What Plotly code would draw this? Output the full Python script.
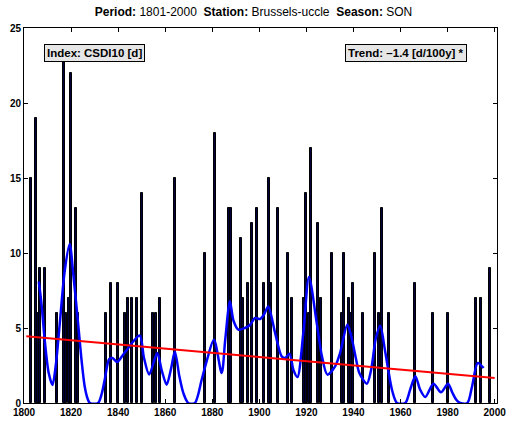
import plotly.graph_objects as go

# ---- data ----
bar_years = [1803, 1805, 1806, 1807, 1809, 1814, 1817, 1818, 1819, 1820, 1822, 1823,
             1835, 1837, 1840, 1843, 1844, 1846, 1848, 1850, 1855, 1856, 1858, 1864,
             1877, 1881, 1887, 1888, 1892, 1893, 1895, 1897, 1899, 1902, 1904, 1905,
             1908, 1912, 1914, 1919, 1920, 1921, 1922, 1925, 1926, 1931, 1935, 1936,
             1938, 1939, 1940, 1944, 1949, 1951, 1952, 1955, 1966, 1974, 1980, 1992,
             1994, 1998]
bar_vals = [15, 19, 6, 9, 9, 6, 23, 6, 7, 22, 13, 6,
            6, 8, 8, 6, 7, 7, 7, 14, 6, 6, 7, 15,
            10, 18, 13, 13, 11, 7, 8, 12, 13, 8, 15, 8,
            13, 10, 7, 7, 14, 6, 17, 12, 7, 10, 6, 10,
            7, 6, 8, 6, 10, 6, 13, 6, 8, 6, 6, 7,
            7, 9]

smooth_years = [1806.3, 1807.5, 1808.8, 1810.5, 1812.1, 1813.5, 1815.2, 1817.3, 1819.4, 1821.0,
                1823.0, 1824.5, 1825.8, 1827.0, 1828.0, 1831.5, 1833.0, 1834.3, 1836.2, 1837.6,
                1839.6, 1842.1, 1844.0, 1846.4, 1849.2, 1851.0, 1853.2, 1856.6, 1858.5, 1860.6,
                1862.5, 1864.1, 1866.0, 1867.7, 1869.8, 1872.6, 1875.5, 1877.6, 1880.7, 1884.0,
                1885.5, 1887.5, 1889.0, 1891.1, 1893.9, 1896.0, 1898.2, 1900.3, 1902.0, 1903.8,
                1906.7, 1909.5, 1911.0, 1912.8, 1914.5, 1916.2, 1918.7, 1921.1, 1924.4, 1926.5,
                1928.9, 1932.2, 1934.3, 1937.4, 1939.0, 1941.0, 1942.5, 1945.7, 1947.5, 1949.5,
                1951.4, 1953.3, 1954.9, 1956.5, 1958.5, 1962.0, 1964.1, 1966.3, 1968.3, 1970.5,
                1974.0, 1977.2, 1980.2, 1982.0, 1983.7, 1985.4, 1988.4, 1990.4, 1992.8, 1995.3]
smooth_vals = [8.1, 6.5, 4.2, 2.0, 1.2, 2.5, 5.3, 8.8, 10.6, 8.5,
               5.3, 2.8, 1.1, 0.3, 0.0, 0.0, 0.6, 1.55, 2.93, 3.0,
               2.73, 3.22, 3.6, 4.1, 4.5, 3.0, 1.9, 3.33, 2.2, 1.22,
               2.3, 3.44, 1.8, 0.67, 0.0, 0.0, 1.55, 2.78, 4.22, 2.0,
               4.2, 6.78, 5.5, 4.89, 5.0, 5.2, 5.67, 5.6, 5.9, 6.44,
               4.67, 3.11, 3.0, 3.29, 2.2, 1.73, 4.67, 8.4, 5.33, 3.2,
               1.89, 2.44, 3.33, 5.22, 4.5, 3.0, 2.0, 1.29, 2.2, 4.3,
               5.15, 3.6, 2.1, 0.8, 0.0, 0.0, 0.89, 1.78, 0.9, 0.4,
               1.29, 0.71, 1.29, 0.7, 0.22, 0.0, 0.0, 1.1, 2.67, 2.33]

trend_years = [1801, 2000]
trend_vals = [4.45, 1.67]

x_ticks = [1800, 1820, 1840, 1860, 1880, 1900, 1920, 1940, 1960, 1980, 2000]
y_ticks = [0, 5, 10, 15, 20, 25]

FONT = "Liberation Sans, Arial, Helvetica, sans-serif"

fig = go.Figure()
fig.add_trace(go.Bar(x=bar_years, y=bar_vals, width=0.85,
                     marker=dict(color="#00003c", line=dict(color="black", width=1)),
                     showlegend=False))
fig.add_trace(go.Scatter(x=smooth_years, y=smooth_vals, mode="lines",
                         line=dict(color="#0000ff", width=2.5, shape="spline", smoothing=0.8),
                         showlegend=False))
fig.add_trace(go.Scatter(x=trend_years, y=trend_vals, mode="lines",
                         line=dict(color="#ff0000", width=2), showlegend=False))

nb = "\u00a0"
title = (f"<b>Period:</b> 1801-2000{nb}{nb}<b>Station:</b> Brussels-uccle"
         f"{nb}{nb}<b>Season:</b> SON")

axis_common = dict(showline=True, linecolor="black", linewidth=1, mirror="ticks",
                   ticks="inside", ticklen=4, tickcolor="black", showgrid=False,
                   zeroline=False, automargin=False,
                   tickfont=dict(family=FONT, size=10, color="black", weight="bold"))

fig.update_layout(
    template="plotly_white",
    width=507, height=423,
    margin=dict(l=24, r=10, t=28, b=20, autoexpand=False),
    paper_bgcolor="white", plot_bgcolor="white",
    title=dict(text=title, x=0.5, xanchor="center", y=1 - 12 / 423, yanchor="middle",
               font=dict(family=FONT, size=12, color="black"), automargin=False),
    xaxis=dict(range=[1800, 2001], tickvals=x_ticks, **axis_common),
    yaxis=dict(range=[0, 25], tickvals=y_ticks, **axis_common),
    bargap=0,
    annotations=[
        dict(text="<b>Index: CSDI10 [d]</b>", xref="paper", yref="paper",
             x=0.042, y=0.958, xanchor="left", yanchor="top", showarrow=False,
             font=dict(family=FONT, size=11.5, color="black"),
             bgcolor="#e6e6e6", bordercolor="black", borderwidth=1, borderpad=2),
        dict(text="<b>Trend: \u20131.4 [d/100y] *</b>", xref="paper", yref="paper",
             x=0.937, y=0.958, xanchor="right", yanchor="top", showarrow=False,
             font=dict(family=FONT, size=11.5, color="black"),
             bgcolor="#e6e6e6", bordercolor="black", borderwidth=1, borderpad=2),
    ],
)

fig.write_html("out.html", config={"displayModeBar": False},
               post_script="document.body.style.margin='0px';document.body.style.overflow='hidden';")
